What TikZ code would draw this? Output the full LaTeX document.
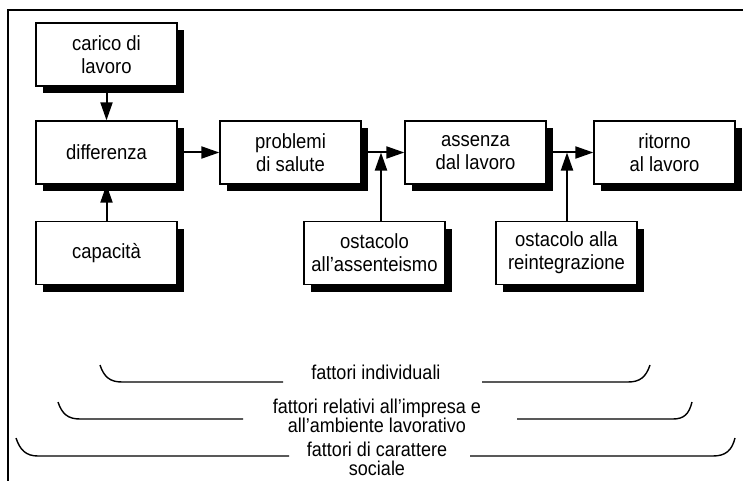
\documentclass[tikz,border=0pt]{standalone}
\usepackage{fontspec}
\setmainfont{Liberation Sans}[FakeStretch=0.9]
\usetikzlibrary{arrows.meta,shadows}
\begin{document}
\begin{tikzpicture}[x=1pt,y=-1pt,
 box/.style={draw, line width=1.3pt, fill=white, minimum width=141pt, minimum height=63pt,
   align=center, font=\fontsize{20.5}{23}\selectfont, inner sep=0pt,
   drop shadow={shadow xshift=7pt, shadow yshift=-7pt, fill=black, opacity=1}},
 arr/.style={line width=2pt, -{Triangle[length=18pt,width=12pt]}},
 lbl/.style={align=center, font=\fontsize{20}{19.5}\selectfont, inner sep=0pt},
 brk/.style={line width=1.4pt}]
\useasboundingbox (0,0) rectangle (743,481);
\draw[line width=1.2pt] (8,481) -- (8,10) -- (743,10);

\node[box] (carico) at (106.5,54.5) {carico di\\lavoro};
\node[box] (diff) at (106.5,152.5) {differenza};
\node[box] (cap) at (106.5,253) {capacità};
\node[box] (prob) at (290.5,152.5) {problemi\\di salute};
\node[box] (ass) at (475.5,152.5) {assenza\\dal lavoro};
\node[box] (rit) at (664.5,152.5) {ritorno\\al lavoro};
\node[box] (ost1) at (374.5,253) {ostacolo\\all’assenteismo};
\node[box] (ost2) at (566.5,253) {ostacolo alla\\reintegrazione};

\coordinate (j1) at (381,152.5);
\coordinate (j2) at (567,152.5);

\draw[arr] (carico) -- (diff);
\draw[arr] (cap) -- (diff);
\draw[arr] (diff) -- (prob);
\draw[arr] (prob) -- (ass);
\draw[arr] (ass) -- (rit);
\draw[arr] (ost1.north -| j1) -- (j1);
\draw[arr] (ost2.north -| j2) -- (j2);

\node[lbl] (f1) at (376,372) {fattori individuali};
\node[lbl] (f2) at (377,416) {fattori relativi all’impresa e\\all’ambiente lavorativo};
\node[lbl] (f3) at (377,459) {fattori di carattere\\sociale};

\draw[brk] (100,365) .. controls (104,377) and (110,382) .. (122,382) -- (283,382);
\draw[brk] (482,382) -- (628,382) .. controls (640,382) and (646,377) .. (650,365);
\draw[brk] (58,402) .. controls (62,414) and (68,419) .. (80,419) -- (243,419);
\draw[brk] (517,419) -- (673,419) .. controls (684,419) and (689,414) .. (692,402);
\draw[brk] (16,438) .. controls (20,450) and (26,456) .. (38,456) -- (289,456);
\draw[brk] (470,456) -- (713,456) .. controls (726,456) and (732,450) .. (735,438);
\end{tikzpicture}
\end{document}
